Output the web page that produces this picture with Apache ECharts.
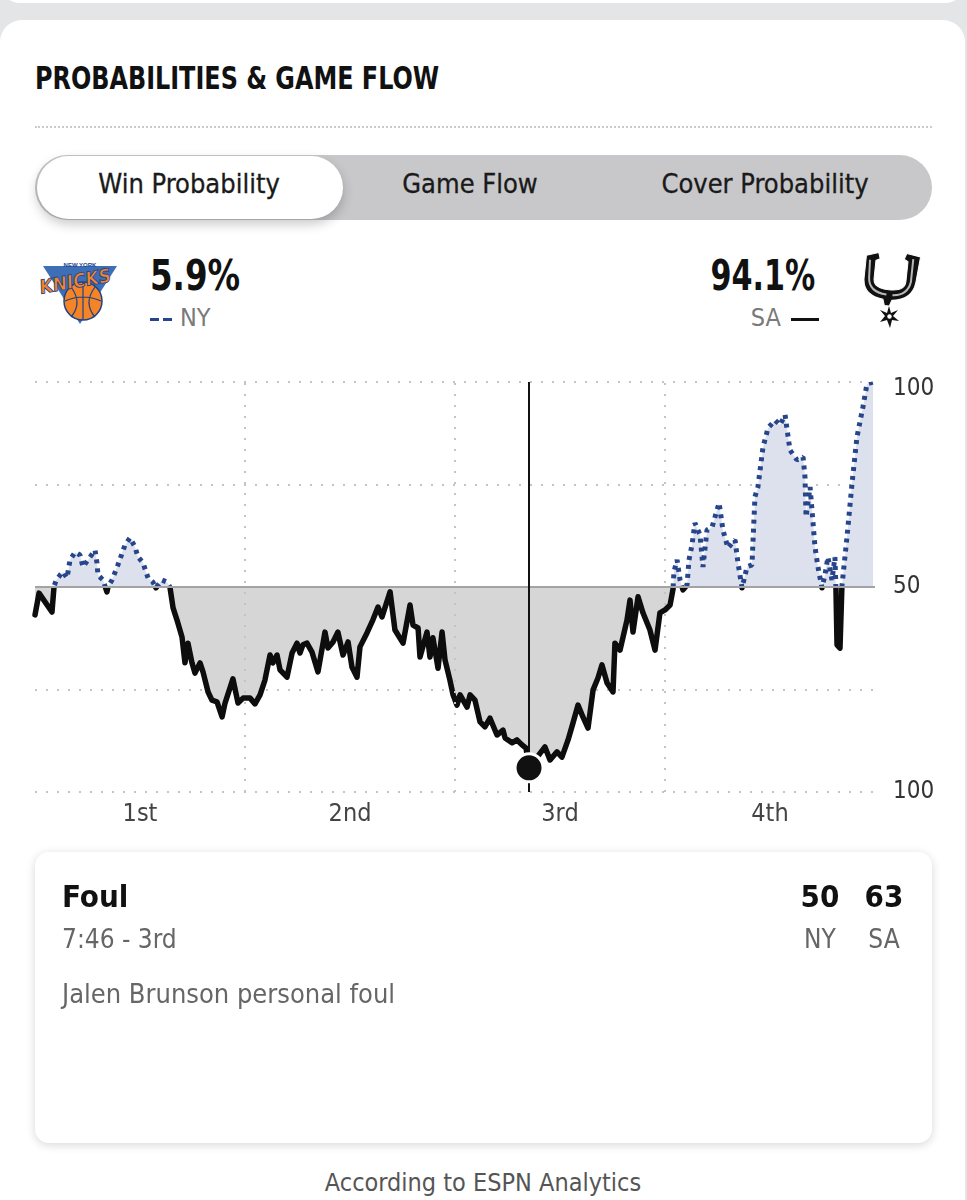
<!DOCTYPE html>
<html>
<head>
<meta charset="utf-8">
<script src="https://cdn.jsdelivr.net/npm/echarts@6/dist/echarts.min.js"></script>
<style>
  html, body { margin: 0; padding: 0; }
  body { width: 967px; height: 1200px; background: #e4e5e6; position: relative; overflow: hidden;
         font-family: "DejaVu Sans Condensed", "Roboto", sans-serif; color: #111; }
  .abs { position: absolute; }
  .card-top { left: 0; top: -20px; width: 965px; height: 23px; background: #fff; border-radius: 0 0 20px 20px; }
  .card { left: 0; top: 20px; width: 965px; height: 1200px; background: #fff; border-radius: 22px; }
  .title { left: 35px; top: 59px; font-size: 32px; font-weight: bold; transform: scaleX(0.83); transform-origin: left; white-space: nowrap; }
  .sep { left: 35px; top: 126px; width: 897px; border-top: 2px dotted #cbcbcb; }
  .seg { left: 35px; top: 155px; width: 897px; height: 65px; background: #c8c8ca; border-radius: 33px; }
  .pill { left: 37px; top: 156px; width: 306px; height: 63px; background: #fff; border-radius: 32px;
          box-shadow: 0 5px 12px rgba(0,0,0,0.22); }
  .tab { top: 168px; font-size: 27px; transform: translateX(-50%); white-space: nowrap; color: #1a1a1a; -webkit-text-stroke: 0.3px #1a1a1a; }
  .pct { top: 250px; font-size: 43px; font-weight: bold; white-space: nowrap; }
  .team { top: 303px; font-size: 25px; color: #7a7a7a; white-space: nowrap; }
  .info { left: 35px; top: 852px; width: 897px; height: 291px; background: #fff; border-radius: 14px;
          box-shadow: 0 2px 10px rgba(0,0,0,0.16); }
  #chart { left: 0; top: 360px; width: 967px; height: 480px; }
</style>
</head>
<body>
<div class="abs card-top"></div>
<div class="abs card"></div>
<div class="abs title">PROBABILITIES &amp; GAME FLOW</div>
<div class="abs sep"></div>
<div class="abs seg"></div>
<div class="abs pill"></div>
<div class="abs tab" style="left:189px">Win Probability</div>
<div class="abs tab" style="left:470px">Game Flow</div>
<div class="abs tab" style="left:765px">Cover Probability</div>

<!-- knicks logo (rough) -->
<svg class="abs" style="left:40px;top:254px" width="80" height="72" viewBox="0 0 80 72">
  <polygon points="3,12 77,12 40,70" fill="#3d6fb6"/>
  <circle cx="43" cy="47" r="19" fill="#f58426" stroke="#1d428a" stroke-width="1.5"/>
  <path d="M25,47 Q43,39 61,47 M43,28 L43,66 M31,33 Q43,49 31,63 M55,33 Q43,49 55,63" stroke="#1d428a" stroke-width="1.2" fill="none"/>
  <text x="40" y="33" font-size="19" font-weight="bold" text-anchor="middle" fill="#f58426" stroke="#1d428a" stroke-width="0.8" font-family="DejaVu Sans Condensed, sans-serif" transform="rotate(-10 40 33) skewX(-8)">KNICKS</text>
  <text x="40" y="13" font-size="6" font-weight="bold" text-anchor="middle" fill="#1d428a" font-family="sans-serif">NEW YORK</text>
</svg>
<div class="abs pct" style="left:150px;transform:scaleX(0.84);transform-origin:left">5.9%</div>
<div class="abs team" style="left:150px"><span style="display:inline-block;width:9px;height:3px;background:#27458a;vertical-align:middle;margin-right:4px"></span><span style="display:inline-block;width:9px;height:3px;background:#27458a;vertical-align:middle;margin-right:8px"></span>NY</div>

<div class="abs pct" style="right:152px;transform:scaleX(0.78);transform-origin:right">94.1%</div>
<div class="abs team" style="right:148px">SA<span style="display:inline-block;width:28px;height:3px;background:#111;vertical-align:middle;margin-left:10px"></span></div>
<!-- spurs logo (rough) -->
<svg class="abs" style="left:856px;top:250px" width="70" height="80" viewBox="0 0 70 80">
  <g transform="rotate(6 35 30)">
    <path d="M8,8 L20,4 L22,10 L18,12 L18,30 Q18,40 34,40 Q50,40 50,30 L50,10 L46,8 L48,2 L62,4 L60,30 Q58,48 38,50 L36,56 L31,56 L29,50 Q8,48 8,30 Z" fill="#111" stroke="#fff" stroke-width="1"/>
    <path d="M12,12 L13,30 Q14,44 32,45 M55,7 L55,30 Q53,44 38,45" stroke="#b8b8b8" stroke-width="2" fill="none"/>
  </g>
  <polygon points="33,56 35,63 42,60 37,66 43,71 36,70 34,78 31,70 24,72 29,66 24,60 31,63" fill="#111"/>
  <circle cx="33.5" cy="66.5" r="2.2" fill="#fff"/>
</svg>

<div class="abs" id="chart"></div>

<div class="abs info"></div>
<div class="abs" style="left:62px;top:878px;font-size:31px;font-weight:bold">Foul</div>
<div class="abs" style="left:62px;top:924px;font-size:26px;color:#666">7:46 - 3rd</div>
<div class="abs" style="left:62px;top:978px;font-size:27px;color:#666;white-space:nowrap">Jalen Brunson personal foul</div>
<div class="abs" style="left:820px;top:878px;font-size:31px;font-weight:bold;transform:translateX(-50%)">50</div>
<div class="abs" style="left:884px;top:878px;font-size:31px;font-weight:bold;transform:translateX(-50%)">63</div>
<div class="abs" style="left:820px;top:924px;font-size:26px;color:#666;transform:translateX(-50%)">NY</div>
<div class="abs" style="left:884px;top:924px;font-size:26px;color:#666;transform:translateX(-50%)">SA</div>
<div class="abs" style="left:483px;top:1168px;font-size:25px;color:#555;transform:translateX(-50%);white-space:nowrap">According to ESPN Analytics</div>

<script>
// game clock in minutes elapsed (0-48) and NY win probability (%)
const minutes = [
  0.00, 0.23, 0.34, 0.97, 1.09, 1.20, 1.43, 1.60, 1.83, 2.00, 2.29, 2.57, 2.74, 3.03, 3.43, 3.54, 3.60, 3.89, 4.11, 4.17,
  4.40, 4.74, 5.14, 5.43, 5.71, 5.89, 6.17, 6.46, 6.74, 6.91, 7.26, 7.54, 7.71, 7.89, 8.11, 8.40, 8.57, 8.74, 8.97, 9.14,
  9.43, 9.60, 9.89, 10.11, 10.40, 10.69, 10.86, 11.31, 11.60, 11.89, 12.29, 12.57, 12.86, 13.14, 13.43, 13.60, 13.83, 14.00, 14.40, 14.69,
  14.97, 15.14, 15.31, 15.54, 15.83, 16.17, 16.57, 16.74, 17.03, 17.31, 17.60, 17.89, 18.11, 18.40, 18.57, 18.97, 19.31, 19.60, 19.83, 20.29,
  20.57, 21.03, 21.43, 21.60, 21.89, 22.00, 22.40, 22.57, 22.74, 23.03, 23.26, 23.43, 23.71, 23.89, 24.11, 24.29, 24.69, 24.86, 25.14, 25.43,
  25.71, 26.00, 26.40, 26.74, 26.86, 27.26, 27.54, 27.83, 28.06, 28.23, 29.14, 29.43, 29.83, 30.11, 30.46, 30.74, 31.03, 31.31, 31.60, 31.89,
  32.17, 32.40, 32.69, 33.03, 33.14, 33.43, 33.83, 34.00, 34.17, 34.46, 34.74, 35.14, 35.43, 35.71, 36.00, 36.29, 36.46, 36.51, 36.69, 36.86,
  37.03, 37.26, 37.37, 37.54, 37.71, 38.00, 38.17, 38.40, 38.69, 39.09, 39.31, 39.60, 40.00, 40.17, 40.40, 40.69, 40.97, 41.14, 41.31, 41.60,
  41.89, 42.29, 42.57, 42.86, 43.14, 43.54, 43.89, 44.00, 44.06, 44.29, 44.57, 44.74, 44.97, 45.14, 45.31, 45.54, 45.71, 45.77, 45.83, 46.00,
  46.11, 46.40, 46.69, 46.97, 47.31, 47.54, 47.89
]
const nyWinProb = [
  43.2, 48.5, 48.8, 43.9, 50.2, 51.5, 52.9, 53.7, 52.2, 56.6, 58.5, 57.8, 54.9, 56.6, 59.0, 55.9, 52.9, 51.7, 48.8, 50.0,
  51.7, 55.4, 60.2, 62.0, 59.8, 57.3, 55.9, 52.2, 51.2, 49.8, 51.7, 51.2, 50.0, 44.9, 42.0, 37.8, 31.5, 36.3, 31.5, 29.0,
  31.5, 29.3, 24.4, 22.4, 22.0, 18.3, 21.7, 27.6, 21.7, 22.9, 22.9, 21.5, 23.7, 27.3, 33.4, 31.5, 33.4, 29.8, 28.0, 33.9,
  36.3, 33.9, 35.9, 36.3, 34.1, 29.3, 39.0, 35.1, 36.6, 39.0, 33.4, 36.6, 30.5, 28.0, 35.4, 38.8, 42.0, 45.1, 42.7, 48.8,
  39.5, 36.3, 45.6, 40.7, 40.0, 32.9, 39.0, 32.9, 37.6, 30.2, 39.0, 32.2, 27.3, 23.7, 21.2, 23.7, 20.7, 23.7, 22.4, 17.1,
  15.9, 18.0, 13.9, 15.1, 13.2, 12.0, 12.7, 11.5, 10.7, 5.9, 11.0, 7.8, 9.8, 8.5, 12.7, 16.8, 21.2, 18.3, 15.6, 24.9,
  27.8, 31.0, 26.6, 24.4, 36.3, 34.6, 42.0, 46.8, 39.0, 47.6, 43.7, 39.5, 34.6, 43.7, 44.4, 45.6, 49.5, 53.7, 56.6, 51.7,
  49.3, 50.5, 56.6, 60.2, 65.6, 62.7, 54.9, 63.9, 64.6, 70.5, 63.9, 59.5, 61.5, 55.9, 49.8, 54.9, 55.4, 72.0, 74.4, 84.1,
  88.8, 90.7, 89.5, 92.0, 83.4, 81.0, 81.7, 76.8, 67.1, 74.4, 59.8, 54.9, 49.8, 52.9, 57.3, 51.7, 57.3, 49.3, 35.9, 35.1,
  50.2, 62.2, 75.4, 86.6, 93.9, 99.5, 100.0
]
const quarterLabels = { 6: "1st", 18: "2nd", 30: "3rd", 42: "4th" }
const quarterBreaks = [12, 24, 36]
const yTickLabels = { 0: "100", 50: "50", 100: "{top|100}" }
const selectedPlay = [28.23, 5.9] // 7:46 - 3rd

const points = minutes.map((m, i) => [m, nyWinProb[i]])

const chart = echarts.init(document.getElementById("chart"))
const dotted = { type: [2, 9], color: "#c4c4c4", width: 2 }
const labelFont = "DejaVu Sans Condensed, sans-serif"

const option = {
  animation: false,
  grid: { left: 35, top: 22, width: 840, height: 410 },
  xAxis: {
    type: "value", min: 0, max: 48, interval: 6,
    axisLine: { show: false }, axisTick: { show: false }, splitLine: { show: false },
    axisLabel: {
      formatter: (v) => quarterLabels[v] || "",
      fontSize: 25, color: "#444", margin: 10, fontFamily: labelFont,
    },
  },
  yAxis: {
    type: "value", min: 0, max: 100, interval: 25, position: "right",
    axisLine: { show: false }, axisTick: { show: false },
    splitLine: { lineStyle: dotted },
    axisLabel: {
      formatter: (v) => yTickLabels[v] || "",
      fontSize: 24, color: "#333", margin: 18, fontFamily: labelFont,
      rich: { top: { fontSize: 24, color: "#333", fontFamily: labelFont, padding: [14, 0, 0, 0] } },
    },
  },
  visualMap: [
    { type: "piecewise", show: false, seriesIndex: 0, dimension: 1,
      pieces: [{ gte: 50, lte: 100, color: "#dde1ee" }, { gte: 0, lt: 50, color: "#d6d6d6" }] },
    { type: "piecewise", show: false, seriesIndex: 1, dimension: 1,
      pieces: [{ gte: 50, lte: 100, color: "#27458a" }, { gte: 0, lt: 50, color: "rgba(0,0,0,0)" }] },
    { type: "piecewise", show: false, seriesIndex: 2, dimension: 1,
      pieces: [{ gte: 50, lte: 100, color: "rgba(0,0,0,0)" }, { gte: 0, lt: 50, color: "#0d0d0d" }] },
  ],
  series: [
    {
      // shaded area between line and 50%
      type: "line", data: points, symbol: "none", z: 1,
      lineStyle: { width: 0 },
      areaStyle: { origin: 50, opacity: 1 },
      markLine: {
        silent: true, symbol: "none", label: { show: false },
        data: [
          ...quarterBreaks.map((q) => ({ xAxis: q, lineStyle: dotted })),
          { yAxis: 50, lineStyle: { type: "solid", color: "#a3a3a3", width: 2 } },
        ],
      },
    },
    {
      name: "NY", type: "line", data: points, symbol: "none", z: 3,
      lineStyle: { width: 5, type: [4, 5], cap: "butt" },
    },
    {
      name: "SA", type: "line", data: points, symbol: "none", z: 3,
      lineStyle: { width: 5.5, cap: "round", join: "round" },
    },
    {
      type: "scatter", data: [selectedPlay], symbolSize: 28, z: 5,
      itemStyle: { color: "#111", borderColor: "#fff", borderWidth: 3, opacity: 1 },
      markLine: {
        silent: true, symbol: "none", label: { show: false },
        lineStyle: { type: "solid", color: "#111", width: 2 },
        data: [{ xAxis: selectedPlay[0] }],
      },
    },
  ],
}
chart.setOption(option)
</script>
</body>
</html>
